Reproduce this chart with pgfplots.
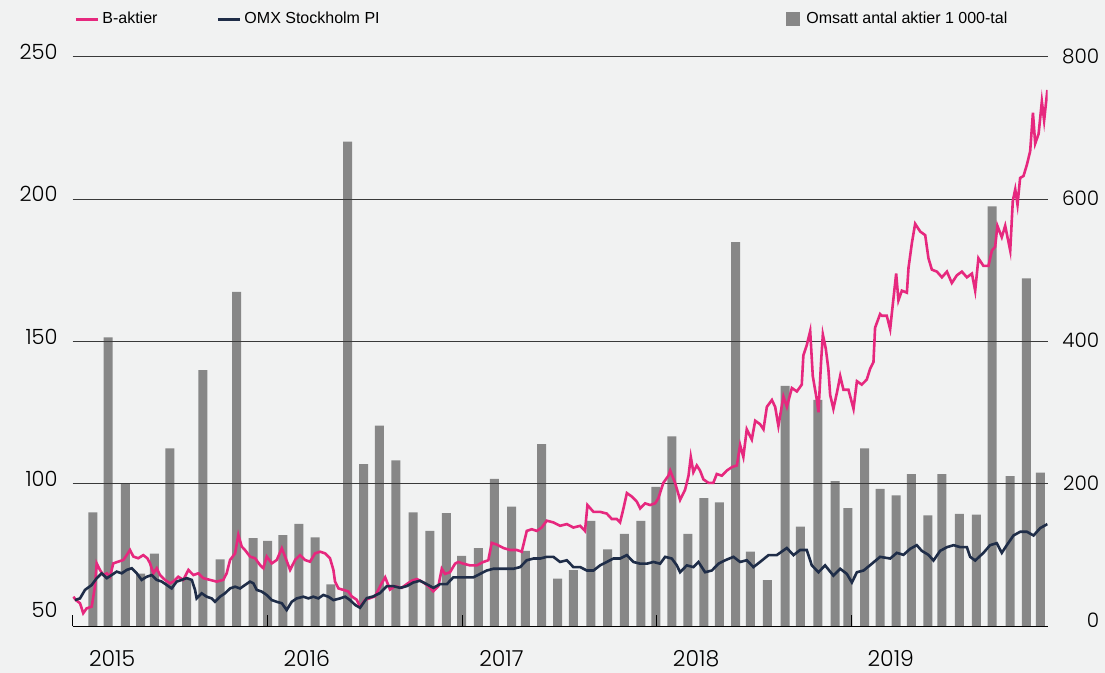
\documentclass[border=0pt]{standalone}
\usepackage{pgfplots}
\pgfplotsset{compat=1.18}
\usepackage{fontspec}
\setmainfont{Liberation Sans}
\newfontfamily\numfont{Poppins Light}
\definecolor{bg}{HTML}{F1F2F2}
\definecolor{pinkc}{HTML}{E6287E}
\definecolor{navyc}{HTML}{1F2D48}
\definecolor{barc}{HTML}{878787}
\definecolor{gridc}{HTML}{3A3A3A}
\begin{document}
\begin{tikzpicture}
\fill[bg] (-36.35pt,-23.35pt) rectangle (516.15pt,313.15pt);
% ---------- bars: right axis ----------
\begin{axis}[
  at={(0pt,0pt)}, anchor=south west,
  scale only axis, width=487.5pt, height=284.65pt,
  xmin=0, xmax=60.1, ymin=0, ymax=800,
  axis line style={draw=none},
  xtick=\empty,
  ytick={200,400,600,800},
  extra y ticks={0},
  extra y tick style={yticklabel style={yshift=2.5pt}},
  yticklabel pos=right,
  ytick style={draw=none},
  /pgf/number format/assume math mode=true,
  yticklabel style={font=\numfont\fontsize{10}{12}\selectfont, anchor=east, inner sep=0pt, xshift=26pt, yshift=0.5pt},
  legend style={at={(0.7316,1.066)}, anchor=west, draw=none, fill=none, inner sep=0pt,
    font=\fontsize{8}{10}\selectfont, nodes={inner sep=3pt}},
  legend image code/.code={\fill[barc] (0pt,-3.5pt) rectangle (7pt,3.5pt);},
]
\addplot[ybar, bar width=0.555, fill=barc, draw=none] coordinates {
(1.24,160) (2.19,406) (3.24,201) (4.18,74) (5.04,102) (5.99,250) (7.03,67) (8.02,360)
(9.08,94) (10.10,470) (11.12,124) (12.02,120) (12.95,128) (13.94,144) (14.94,125) (15.92,59)
(16.95,681) (17.94,228) (18.90,282) (19.92,233) (20.99,160) (22.02,134) (23.03,159) (23.98,99)
(25.01,110) (25.99,207) (27.05,168) (27.90,106) (28.91,256) (29.89,67) (30.86,79) (31.94,148)
(32.97,108) (34.00,130) (35.02,148) (35.95,196) (36.93,267) (37.92,130) (38.91,180) (39.86,174)
(40.86,540) (41.77,105) (42.82,65) (43.91,338) (44.85,140) (45.93,318) (47.00,204) (47.78,166)
(48.82,250) (49.77,193) (50.76,184) (51.70,214) (52.71,156) (53.58,214) (54.66,158) (55.70,157)
(56.68,590) (57.79,211) (58.79,489) (59.65,216)
};
\addlegendentry{Omsatt antal aktier 1 000-tal}
\end{axis}
% ---------- lines: left axis ----------
\begin{axis}[
  at={(0pt,0pt)}, anchor=south west,
  scale only axis, width=487.5pt, height=284.65pt,
  xmin=0, xmax=60.1, ymin=50, ymax=250,
  axis x line*=bottom, axis y line*=left,
  y axis line style={draw=none},
  x axis line style={-, black, line width=0.7pt},
  xtick={0,12,24,36,48}, xticklabels={2015,2016,2017,2018,2019},
  tick align=inside, major tick length=5.5pt,
  xtick style={black, line width=0.5pt},
  xticklabel style={anchor=center, inner sep=0pt, xshift=19.7pt, yshift=-16.1pt, font=\numfont\fontsize{11}{13}\selectfont},
  ytick={100,150,200,250},
  extra y ticks={50},
  extra y tick style={grid=none, yticklabel style={yshift=5.6pt}},
  ymajorgrids, grid style={gridc, line width=0.5pt},
  ytick style={draw=none},
  /pgf/number format/assume math mode=true,
  yticklabel style={font=\numfont\fontsize{10.5}{12}\selectfont, anchor=east, inner sep=0pt, xshift=-7.35pt, yshift=2.5pt},
  legend style={at={(0.0013,1.066)}, anchor=west, draw=none, fill=none, inner sep=0pt,
    font=\fontsize{8}{10}\selectfont, nodes={inner sep=1.5pt},
    /tikz/every even column/.append style={column sep=28pt}},
  legend columns=2,
  legend image code/.code={\draw[#1, line width=1.5pt] (0pt,0pt) -- (11pt,0pt);},
]
\addplot[pinkc, line width=1.3pt] coordinates {
(0.04,60.4) (0.20,59.2) (0.45,58.1) (0.65,54.6) (0.86,56.3) (1.17,56.9) (1.37,63.9) (1.48,72.1)
(1.68,69.8) (1.89,68) (2.10,68.6) (2.30,67.4) (2.50,72.1) (2.81,72.7) (3.12,73.3) (3.33,75)
(3.53,76.8) (3.74,74.5) (4.04,73.9) (4.35,75) (4.60,73.9) (4.77,72.1) (4.97,68.6) (5.18,70.4)
(5.38,68) (5.69,66.3) (6.00,65.1) (6.20,65.7) (6.51,67.4) (6.82,66.3) (7.13,69.8) (7.44,68)
(7.74,68.6) (8.05,66.9) (8.46,66.3) (8.88,65.7) (9.28,66.3) (9.49,68.6) (9.70,73.3) (10.01,75.6)
(10.21,82.1) (10.42,78) (10.62,76.8) (10.93,74.5) (11.24,73.9) (11.55,71.5) (11.75,70.4) (11.96,74.5)
(12.27,72.1) (12.58,73.3) (12.89,77.4) (13.09,74.5) (13.40,69.8) (13.71,73.3) (14.01,75) (14.32,73.3)
(14.63,72.7) (14.94,75.6) (15.25,76.2) (15.56,75.6) (15.86,73.9) (16.07,69.8) (16.17,65.7) (16.38,63.3)
(16.68,62.8) (16.99,62.2) (17.20,60.5) (17.51,59.3) (17.71,56.9) (18.02,59.3) (18.33,59.9) (18.64,60.5)
(18.95,64.1) (19.26,67.2) (19.56,62.9) (19.87,64.1) (20.28,63.5) (20.59,64.8) (20.90,66) (21.21,66.6)
(21.62,65.4) (21.92,64.1) (22.23,62.3) (22.54,64.1) (22.75,70.2) (22.95,68.4) (23.26,69) (23.57,72)
(23.77,72.6) (24.08,72) (24.49,71.4) (24.91,71.4) (25.31,72.6) (25.62,73.2) (25.83,79.3) (26.14,78.7)
(26.55,77.5) (26.96,76.8) (27.37,76.8) (27.68,76.2) (27.99,83.5) (28.30,84.1) (28.61,83.5) (28.91,84.7)
(29.22,87.1) (29.63,86.5) (30.04,85.3) (30.46,85.9) (30.86,84.7) (31.28,85.3) (31.58,83.5) (31.73,92.6)
(32.10,90.2) (32.51,90.2) (32.92,89.6) (33.23,87.7) (33.54,87.7) (33.74,86.5) (33.95,91.4) (34.16,96.8)
(34.46,95.6) (34.77,93.8) (34.98,91.4) (35.28,93.2) (35.59,92.6) (35.90,93.2) (36.10,95) (36.41,100.4)
(36.72,102.9) (36.83,104.7) (37.13,100.4) (37.44,94.4) (37.75,98) (37.96,102.9) (38.10,109.5) (38.26,104.1)
(38.47,106.5) (38.67,104.7) (38.88,101.6) (39.19,100.4) (39.49,100.4) (39.70,103.5) (40.01,102.9) (40.32,104.7)
(40.63,105.9) (40.94,106.5) (41.14,113.7) (41.34,109.5) (41.55,119.2) (41.86,115.6) (42.07,122.2) (42.37,121)
(42.58,119.2) (42.79,127.1) (43.10,129.5) (43.30,127.1) (43.50,120.4) (43.81,130.7) (44.02,127.1) (44.33,133.7)
(44.64,132.5) (44.94,134.9) (45.04,145.2) (45.25,148.8) (45.46,153.7) (45.62,137.9) (45.87,129.5) (45.97,125.2)
(46.13,142.8) (46.24,152.5) (46.42,147.6) (46.58,140.4) (46.69,131.3) (46.89,126.4) (47.10,131.9) (47.31,137.9)
(47.51,133.1) (47.82,133.1) (48.13,126.4) (48.34,136.1) (48.64,134.9) (48.95,136.7) (49.15,140.4) (49.36,142.8)
(49.46,154.9) (49.77,159.7) (49.88,159.1) (50.18,159.1) (50.39,154.4) (50.49,159.8) (50.76,173.9) (50.90,164.5)
(51.11,167.9) (51.42,167.2) (51.52,175.9) (51.73,184.7) (51.93,191.4) (52.24,188.7) (52.55,187.4) (52.75,179.3)
(52.96,175.3) (53.27,174.6) (53.58,172.6) (53.89,174.6) (54.19,170.6) (54.50,173.3) (54.81,174.6) (55.12,172.6)
(55.43,173.9) (55.63,167.9) (55.83,179.3) (56.14,176.6) (56.45,176.6) (56.66,182) (56.86,183.3) (57.00,190.7)
(57.27,186.7) (57.48,190.7) (57.79,182) (57.95,199.5) (58.10,203.5) (58.24,198.1) (58.40,207.5) (58.61,208.2)
(58.82,212.2) (59.02,216.9) (59.19,230.4) (59.33,219.6) (59.54,223) (59.74,234.4) (59.88,227.7) (60.08,238.4)
};
\addlegendentry{B-aktier}
\addplot[navyc, line width=1.3pt] coordinates {
(0.14,59.2) (0.45,59.8) (0.76,62.8) (1.17,64.5) (1.48,66.9) (1.79,68.6) (2.10,66.9) (2.40,68)
(2.71,69.2) (3.02,68.6) (3.33,69.8) (3.64,70.4) (3.95,68.6) (4.25,66.3) (4.56,67.4) (4.87,68)
(5.18,66.3) (5.49,65.7) (5.80,64.5) (6.10,63.3) (6.41,65.7) (6.72,66.3) (7.03,66.9) (7.34,66.3)
(7.54,62.8) (7.64,59.8) (7.95,61.6) (8.26,60.4) (8.57,59.8) (8.77,58.6) (9.08,60.4) (9.39,61.6)
(9.70,63.3) (10.01,63.9) (10.32,63.3) (10.62,64.5) (10.93,65.7) (11.14,65.1) (11.34,62.8) (11.65,62.2)
(11.96,61) (12.27,59.2) (12.58,58.6) (12.89,58.1) (13.19,55.7) (13.50,58.6) (13.81,59.8) (14.22,60.4)
(14.53,59.8) (14.83,60.4) (15.14,59.8) (15.45,61) (15.76,60.4) (16.07,59.2) (16.48,59.8) (16.79,60.4)
(17.10,59.2) (17.41,57.5) (17.71,56.5) (18.13,59.9) (18.53,60.5) (18.95,61.7) (19.36,64.1) (19.77,64.1)
(20.18,63.5) (20.59,64.1) (21.00,65.4) (21.41,66) (21.82,64.8) (22.23,63.5) (22.64,64.8) (23.06,64.8)
(23.46,67.2) (23.88,67.2) (24.29,67.2) (24.70,67.2) (25.11,68.4) (25.52,69.6) (25.93,70.2) (26.34,70.2)
(26.76,70.2) (27.16,70.2) (27.58,70.8) (27.99,73.2) (28.40,73.8) (28.81,73.8) (29.22,74.4) (29.63,74.4)
(30.04,72.6) (30.46,73.2) (30.86,70.8) (31.28,70.8) (31.69,69.6) (32.10,69.6) (32.51,71.4) (32.92,72.6)
(33.33,73.8) (33.74,73.8) (34.16,75) (34.56,72.6) (34.98,72) (35.39,72) (35.80,72.6) (36.21,72)
(36.52,74.4) (36.93,73.8) (37.24,71.4) (37.44,69) (37.85,71.4) (38.26,70.8) (38.57,72.6) (38.98,69)
(39.40,69.6) (39.81,72) (40.22,73.2) (40.73,74.4) (41.14,72.6) (41.55,73.2) (41.96,70.8) (42.37,72.6)
(42.89,75) (43.40,75) (44.02,77.5) (44.43,75) (44.84,76.8) (45.25,76.8) (45.56,71.4) (45.97,69)
(46.38,71.4) (46.89,67.8) (47.31,70.2) (47.72,68.4) (48.03,65.4) (48.34,69) (48.75,69.6) (49.16,71.5)
(49.77,74.4) (50.39,73.8) (50.80,75.8) (51.21,75.1) (51.62,77.2) (52.03,78.5) (52.34,76.5) (52.75,75.1)
(53.06,73.1) (53.47,76.5) (53.89,77.8) (54.30,78.5) (54.71,77.8) (55.12,77.8) (55.32,74.4) (55.63,73.1)
(56.14,75.8) (56.55,78.5) (56.96,79.2) (57.27,75.8) (57.58,78.5) (57.99,81.9) (58.40,83.2) (58.82,83.2)
(59.23,81.9) (59.64,84.5) (60.08,85.9)
};
\addlegendentry{OMX Stockholm PI}
\end{axis}
\pgfresetboundingbox
\path[use as bounding box] (-36.35pt,-23.35pt) rectangle (516.15pt,313.15pt);
\end{tikzpicture}
\end{document}
